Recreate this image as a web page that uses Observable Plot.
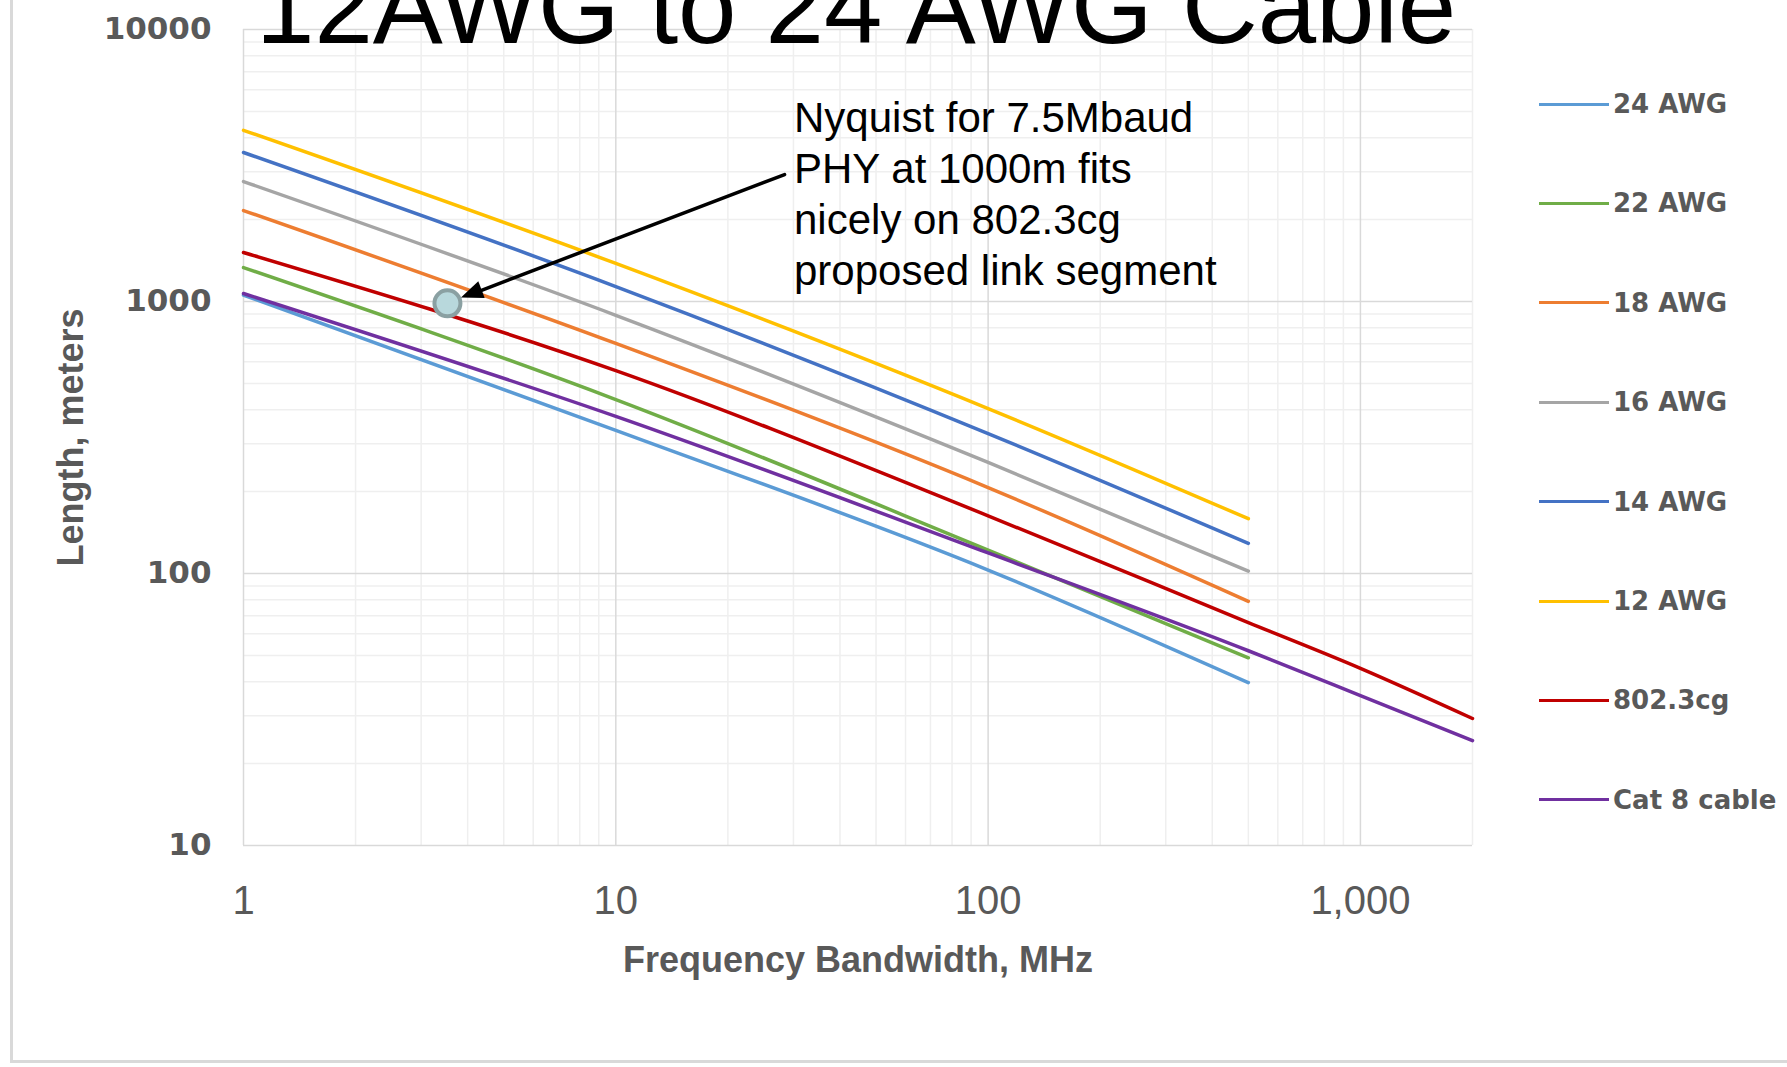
<!DOCTYPE html>
<html>
<head>
<meta charset="utf-8">
<script src="https://cdn.jsdelivr.net/npm/d3@7"></script>
<script src="https://cdn.jsdelivr.net/npm/@observablehq/plot@0.6"></script>
<style>
  html, body { margin: 0; padding: 0; background: #fff; width: 1787px; height: 1067px; overflow: hidden; position: relative; }
  #frame { position: absolute; left: 10px; top: -10px; width: 1820px; height: 1073px; border: 3px solid #d9d9d9; box-sizing: border-box; }
  #title { position: absolute; left: 256px; top: -46px; font-family: "Liberation Sans", Arial, sans-serif; font-size: 105px; line-height: 1; color: #000; white-space: nowrap; }
  #chart { position: absolute; left: 0; top: 0; }
  #note { position: absolute; left: 794px; top: 92px; font-family: "Liberation Sans", Arial, sans-serif; font-size: 42px; line-height: 51px; color: #000; white-space: nowrap; }
  #legend { position: absolute; left: 1539px; top: 104px; }
  .item { position: absolute; left: 0; display: flex; align-items: center; transform: translateY(-50%); }
  .sw { width: 70px; height: 3px; margin-right: 4px; }
  .lab { font-family: "DejaVu Sans", Verdana, sans-serif; font-weight: bold; font-size: 26px; color: #595959; white-space: nowrap; }
</style>
</head>
<body>
<div id="frame"></div>
<div id="chart"></div>
<div id="title"></div>
<div id="note"></div>
<div id="legend"></div>
<script>
// ---- data ----
const titleText = "12AWG to 24 AWG Cable";
const series = ["24 AWG", "22 AWG", "18 AWG", "16 AWG", "14 AWG", "12 AWG", "802.3cg", "Cat 8 cable"];
const colors = ["#5b9bd5", "#70ad47", "#ed7d31", "#a5a5a5", "#4472c4", "#ffc000", "#c00000", "#7030a0"];
const freqAWG = [1, 10, 100, 500];
const freqExt = [1, 10, 100, 500, 1000, 2000];
const len24 = [1055, 336, 103, 39.7];
const len22 = [1333, 436, 122, 49];
const len18 = [2160, 701, 207, 79];
const len16 = [2760, 890, 256, 102];
const len14 = [3530, 1135, 327, 129];
const len12 = [4260, 1380, 404, 159];
const len8023cg = [1514, 557, 163, 66, 44.8, 29.3];
const lenCat8 = [1070, 378, 119, 52, 35.6, 24.3];

const xTicks = [1, 10, 100, 1000];
const xTickLabels = ["1", "10", "100", "1,000"];
const yTicks = [10, 100, 1000, 10000];
const yTickLabels = ["10", "100", "1000", "10000"];
const xLabel = "Frequency Bandwidth, MHz";
const yLabel = "Length, meters";

const notePoint = [3.53, 985];          // MHz, meters
const noteArrowStart = [28.4, 2930];    // MHz, meters
const noteLines = ["Nyquist for 7.5Mbaud", "PHY at 1000m fits", "nicely on 802.3cg", "proposed link segment"];

// ---- tidy table ----
const seriesData = [
  [freqAWG, len24], [freqAWG, len22], [freqAWG, len18], [freqAWG, len16],
  [freqAWG, len14], [freqAWG, len12], [freqExt, len8023cg], [freqExt, lenCat8]
];
const rows = [];
seriesData.forEach(([fx, ly], i) => fx.forEach((f, j) => rows.push({series: series[i], f, len: ly[j]})));

// grid values derived from the decade ticks
const xDomain = [1, 2000], yDomain = [10, 10000];
const minor = (decades, dom) => decades.flatMap(d => d3.range(2, 10).map(k => d * k)).filter(v => v > dom[0] && v <= dom[1]);
const xMinor = minor(xTicks, xDomain);
const yMinor = minor(yTicks, yDomain);

const colorOf = Object.fromEntries(series.map((s, i) => [s, colors[i]]));

const plot = Plot.plot({
  width: 1787,
  height: 1067,
  marginLeft: 243,
  marginRight: 315,
  marginTop: 29,
  marginBottom: 222,
  style: {background: "transparent", fontFamily: "Liberation Sans, Arial, sans-serif", overflow: "visible"},
  x: {type: "log", domain: xDomain},
  y: {type: "log", domain: yDomain},
  marks: [
    Plot.gridX(xMinor, {stroke: "#efefef", strokeOpacity: 1, strokeWidth: 1.5}),
    Plot.gridY(yMinor, {stroke: "#efefef", strokeOpacity: 1, strokeWidth: 1.5}),
    Plot.gridX(xTicks, {stroke: "#d9d9d9", strokeOpacity: 1, strokeWidth: 1.5}),
    Plot.gridY(yTicks, {stroke: "#d9d9d9", strokeOpacity: 1, strokeWidth: 1.5}),
    Plot.axisX(xTicks, {
      tickSize: 0, tickPadding: 40, label: null,
      tickFormat: d => xTickLabels[xTicks.indexOf(d)],
      fontSize: 40, fontFamily: "Liberation Sans Narrow, Liberation Sans, Arial Narrow, sans-serif",
      fill: "#595959", color: "#595959"
    }),
    Plot.axisY(yTicks, {
      tickSize: 0, tickPadding: 32, label: null,
      tickFormat: d => yTickLabels[yTicks.indexOf(d)],
      fontSize: 31, fontFamily: "DejaVu Sans, Verdana, sans-serif", fontWeight: "bold",
      fill: "#595959", color: "#595959"
    }),
    Plot.text([xLabel], {frameAnchor: "bottom", dy: 115, lineAnchor: "middle", textAnchor: "middle", text: d => d,
      fontSize: 36, fontWeight: "bold", fill: "#595959", fontFamily: "Liberation Sans, Arial, sans-serif"}),
    Plot.text([yLabel], {frameAnchor: "left", dx: -172, rotate: -90, lineAnchor: "middle", textAnchor: "middle", text: d => d,
      fontSize: 36, fontWeight: "bold", fill: "#595959", fontFamily: "Liberation Sans, Arial, sans-serif"}),
    Plot.line(rows, {x: "f", y: "len", z: "series", stroke: d => colorOf[d.series], strokeWidth: 3.5, curve: "monotone-x"}),
    Plot.arrow([{x1: noteArrowStart[0], y1: noteArrowStart[1], x2: notePoint[0], y2: notePoint[1]}],
      {x1: "x1", y1: "y1", x2: "x2", y2: "y2", stroke: "#000", strokeWidth: 3.5, headLength: 0, insetEnd: 15 + 18}),
    Plot.dot([notePoint], {x: d => d[0], y: d => d[1], r: 13, fill: "#b8d8dc", stroke: "#8aa0a2", strokeWidth: 4})
  ]
});
document.getElementById("chart").appendChild(plot);

// filled arrowhead, placed through the plot's own scales
const sx = plot.scale("x"), sy = plot.scale("y");
const ex = sx.apply(notePoint[0]), ey = sy.apply(notePoint[1]);
const bx = sx.apply(noteArrowStart[0]), by = sy.apply(noteArrowStart[1]);
const len = Math.hypot(bx - ex, by - ey);
const ux = (bx - ex) / len, uy = (by - ey) / len;
const tipX = ex + ux * 15, tipY = ey + uy * 15;
const L = 22, W = 9;
const baseX = tipX + ux * L, baseY = tipY + uy * L;
d3.select(plot).append("polygon")
  .attr("points", [[tipX, tipY], [baseX - uy * W, baseY + ux * W], [baseX + uy * W, baseY - ux * W]].map(p => p.join(",")).join(" "))
  .attr("fill", "#000");

document.getElementById("title").textContent = titleText;
document.getElementById("note").innerHTML = noteLines.map(s => `<div>${s}</div>`).join("");

const legend = document.getElementById("legend");
series.forEach((s, i) => {
  const it = document.createElement("div");
  it.className = "item";
  it.style.top = (i * 99.4) + "px";
  it.innerHTML = `<div class="sw" style="background:${colors[i]}"></div><div class="lab">${s}</div>`;
  legend.appendChild(it);
});
</script>
</body>
</html>
